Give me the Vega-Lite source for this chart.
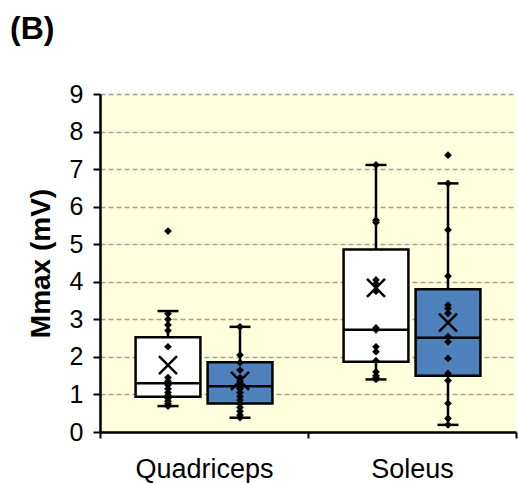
{
  "$schema": "https://vega.github.io/schema/vega-lite/v6.json",
  "width": 416,
  "height": 338,
  "autosize": {"type": "none"},
  "padding": {"left": 100, "top": 94, "right": 3, "bottom": 51},
  "background": "white",
  "title": {"text": "(B)", "anchor": "start", "frame": "group", "dx": -90, "offset": 4, "baseline": "bottom", "font": "Liberation Sans", "fontSize": 32, "fontWeight": "bold", "color": "black"},
  "config": {
    "view": {"fill": "#FFFFDD", "stroke": null},
    "font": "Liberation Sans",
    "axisY": {"tickCount": 9, "grid": true, "gridDash": [5, 3], "gridColor": "#A0A0A0", "gridWidth": 1.5, "domainColor": "black", "domainWidth": 2.5, "tickColor": "black", "tickWidth": 2, "tickSize": 7, "labelFontSize": 25, "labelColor": "black", "labelPadding": 10, "labelOverlap": false, "titleFontSize": 28, "titleFontWeight": "bold", "titleColor": "black", "titlePadding": 14}
  },
  "datasets": {
    "boxes": [
      {"muscle": "Quadriceps", "group": "Group 1", "lower": 0.69, "q1": 0.94, "median": 1.30, "q3": 2.52, "upper": 3.22, "mean": 1.78},
      {"muscle": "Quadriceps", "group": "Group 2", "lower": 0.38, "q1": 0.76, "median": 1.22, "q3": 1.86, "upper": 2.80, "mean": 1.36},
      {"muscle": "Soleus", "group": "Group 1", "lower": 1.40, "q1": 1.87, "median": 2.72, "q3": 4.86, "upper": 7.11, "mean": 3.84},
      {"muscle": "Soleus", "group": "Group 2", "lower": 0.19, "q1": 1.50, "median": 2.51, "q3": 3.80, "upper": 6.62, "mean": 2.91}
    ],
    "points": [
      {"muscle": "Quadriceps", "group": "Group 1", "value": 5.35},
      {"muscle": "Quadriceps", "group": "Group 1", "value": 3.15},
      {"muscle": "Quadriceps", "group": "Group 1", "value": 3.0},
      {"muscle": "Quadriceps", "group": "Group 1", "value": 2.85},
      {"muscle": "Quadriceps", "group": "Group 1", "value": 2.7},
      {"muscle": "Quadriceps", "group": "Group 1", "value": 2.27},
      {"muscle": "Quadriceps", "group": "Group 1", "value": 1.45},
      {"muscle": "Quadriceps", "group": "Group 1", "value": 1.35},
      {"muscle": "Quadriceps", "group": "Group 1", "value": 1.25},
      {"muscle": "Quadriceps", "group": "Group 1", "value": 1.15},
      {"muscle": "Quadriceps", "group": "Group 1", "value": 1.05},
      {"muscle": "Quadriceps", "group": "Group 1", "value": 0.98},
      {"muscle": "Quadriceps", "group": "Group 1", "value": 0.9},
      {"muscle": "Quadriceps", "group": "Group 1", "value": 0.82},
      {"muscle": "Quadriceps", "group": "Group 1", "value": 0.75},
      {"muscle": "Quadriceps", "group": "Group 1", "value": 0.69},
      {"muscle": "Quadriceps", "group": "Group 2", "value": 2.8},
      {"muscle": "Quadriceps", "group": "Group 2", "value": 2.05},
      {"muscle": "Quadriceps", "group": "Group 2", "value": 1.85},
      {"muscle": "Quadriceps", "group": "Group 2", "value": 1.65},
      {"muscle": "Quadriceps", "group": "Group 2", "value": 1.45},
      {"muscle": "Quadriceps", "group": "Group 2", "value": 1.35},
      {"muscle": "Quadriceps", "group": "Group 2", "value": 1.25},
      {"muscle": "Quadriceps", "group": "Group 2", "value": 1.15},
      {"muscle": "Quadriceps", "group": "Group 2", "value": 1.05},
      {"muscle": "Quadriceps", "group": "Group 2", "value": 0.95},
      {"muscle": "Quadriceps", "group": "Group 2", "value": 0.85},
      {"muscle": "Quadriceps", "group": "Group 2", "value": 0.75},
      {"muscle": "Quadriceps", "group": "Group 2", "value": 0.65},
      {"muscle": "Quadriceps", "group": "Group 2", "value": 0.55},
      {"muscle": "Quadriceps", "group": "Group 2", "value": 0.45},
      {"muscle": "Quadriceps", "group": "Group 2", "value": 0.38},
      {"muscle": "Soleus", "group": "Group 1", "value": 7.11},
      {"muscle": "Soleus", "group": "Group 1", "value": 5.64},
      {"muscle": "Soleus", "group": "Group 1", "value": 5.58},
      {"muscle": "Soleus", "group": "Group 1", "value": 4.05},
      {"muscle": "Soleus", "group": "Group 1", "value": 3.95},
      {"muscle": "Soleus", "group": "Group 1", "value": 3.75},
      {"muscle": "Soleus", "group": "Group 1", "value": 2.77},
      {"muscle": "Soleus", "group": "Group 1", "value": 2.72},
      {"muscle": "Soleus", "group": "Group 1", "value": 2.27},
      {"muscle": "Soleus", "group": "Group 1", "value": 2.14},
      {"muscle": "Soleus", "group": "Group 1", "value": 1.9},
      {"muscle": "Soleus", "group": "Group 1", "value": 1.6},
      {"muscle": "Soleus", "group": "Group 1", "value": 1.5},
      {"muscle": "Soleus", "group": "Group 1", "value": 1.45},
      {"muscle": "Soleus", "group": "Group 1", "value": 1.4},
      {"muscle": "Soleus", "group": "Group 2", "value": 7.37},
      {"muscle": "Soleus", "group": "Group 2", "value": 6.62},
      {"muscle": "Soleus", "group": "Group 2", "value": 5.38},
      {"muscle": "Soleus", "group": "Group 2", "value": 4.15},
      {"muscle": "Soleus", "group": "Group 2", "value": 3.38},
      {"muscle": "Soleus", "group": "Group 2", "value": 3.29},
      {"muscle": "Soleus", "group": "Group 2", "value": 3.16},
      {"muscle": "Soleus", "group": "Group 2", "value": 2.54},
      {"muscle": "Soleus", "group": "Group 2", "value": 2.4},
      {"muscle": "Soleus", "group": "Group 2", "value": 1.96},
      {"muscle": "Soleus", "group": "Group 2", "value": 1.56},
      {"muscle": "Soleus", "group": "Group 2", "value": 1.37},
      {"muscle": "Soleus", "group": "Group 2", "value": 0.76},
      {"muscle": "Soleus", "group": "Group 2", "value": 0.36},
      {"muscle": "Soleus", "group": "Group 2", "value": 0.19}
    ]
  },
  "encoding": {
    "x": {
      "field": "muscle", "type": "nominal",
      "scale": {"domain": ["Quadriceps", "Soleus"], "paddingInner": 0, "paddingOuter": 0},
      "axis": {"title": null, "tickBand": "extent", "labelAngle": 0, "labelFontSize": 27, "labelColor": "black", "labelPadding": 18, "domainColor": "black", "domainWidth": 2.5, "tickColor": "black", "tickWidth": 2, "tickSize": 6}
    },
    "xOffset": {"field": "group", "type": "nominal", "scale": {"domain": ["Group 1", "Group 2"], "paddingInner": 0.1, "paddingOuter": 0.494}}
  },
  "layer": [
    {
      "data": {"name": "boxes"},
      "mark": {"type": "rule", "color": "black", "strokeWidth": 2.5},
      "encoding": {
        "y": {"field": "lower", "type": "quantitative", "title": "Mmax (mV)", "scale": {"domain": [0, 9], "nice": false}},
        "y2": {"field": "upper"}
      }
    },
    {
      "data": {"name": "boxes"},
      "mark": {"type": "tick", "color": "black", "size": 21, "thickness": 2.5, "opacity": 1},
      "encoding": {"y": {"field": "upper", "type": "quantitative", "title": "Mmax (mV)"}}
    },
    {
      "data": {"name": "boxes"},
      "mark": {"type": "tick", "color": "black", "size": 21, "thickness": 2.5, "opacity": 1},
      "encoding": {"y": {"field": "lower", "type": "quantitative", "title": "Mmax (mV)"}}
    },
    {
      "data": {"name": "boxes"},
      "mark": {"type": "bar", "stroke": "black", "strokeWidth": 2.5, "opacity": 1},
      "encoding": {
        "y": {"field": "q1", "type": "quantitative", "title": "Mmax (mV)"},
        "y2": {"field": "q3"},
        "fill": {"field": "group", "type": "nominal", "scale": {"domain": ["Group 1", "Group 2"], "range": ["white", "#4F81BD"]}, "legend": null}
      }
    },
    {
      "data": {"name": "boxes"},
      "mark": {"type": "tick", "color": "black", "size": 65, "thickness": 2.5, "opacity": 1},
      "encoding": {"y": {"field": "median", "type": "quantitative", "title": "Mmax (mV)"}}
    },
    {
      "data": {"name": "points"},
      "mark": {"type": "point", "shape": "diamond", "filled": true, "color": "black", "size": 60, "opacity": 1},
      "encoding": {"y": {"field": "value", "type": "quantitative", "title": "Mmax (mV)"}}
    },
    {
      "data": {"name": "boxes"},
      "mark": {"type": "point", "shape": "M-1,-1L1,1M-1,1L1,-1", "filled": false, "stroke": "black", "strokeWidth": 2.5, "size": 324, "opacity": 1},
      "encoding": {"y": {"field": "mean", "type": "quantitative", "title": "Mmax (mV)"}}
    }
  ]
}
